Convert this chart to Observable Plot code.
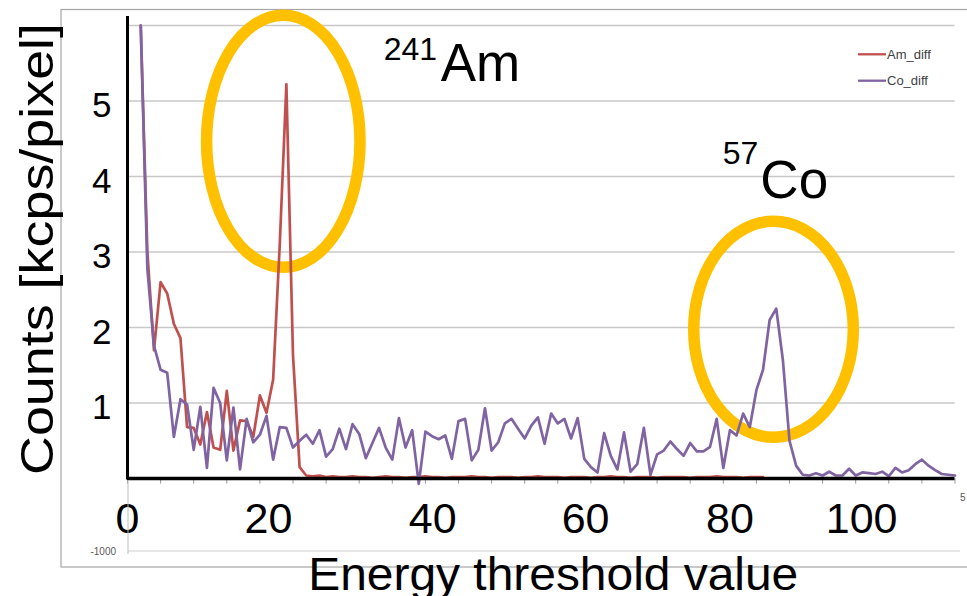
<!DOCTYPE html>
<html><head><meta charset="utf-8">
<script src="https://cdn.jsdelivr.net/npm/d3@7"></script>
<script src="https://cdn.jsdelivr.net/npm/@observablehq/plot@0.6"></script>
<style>html,body{margin:0;padding:0;background:#fff}svg{display:block}</style>
</head><body><div id="chart"></div>
<script>
// Series values (kcps/pixel), one per threshold step, starting at threshold index 2
const firstThreshold = 2;
const amDiff = [6.0, 3.0, 1.70, 2.60, 2.45, 2.05, 1.86, 0.68, 0.67, 0.45, 0.88, 0.41, 0.38, 1.16, 0.37, 0.77, 0.76, 0.55, 1.10, 0.87, 1.31, 3.10, 5.22, 1.63, 0.15, 0.04,
  0.03, 0.04, 0.02, 0.03, 0.02, 0.02, 0.03, 0.02, 0.02, 0.01, 0.02, 0.03, 0.02, 0.02, 0.01, 0.02, 0.02, 0.03, 0.02, 0.02, 0.01, 0.02, 0.02, 0.02, 0.03, 0.02, 0.02, 0.01, 0.02, 0.02, 0.02, 0.01, 0.02, 0.02, 0.03, 0.02, 0.02, 0.02, 0.01, 0.02, 0.02, 0.02, 0.01, 0.02, 0.02, 0.03, 0.02, 0.02, 0.01, 0.02, 0.02, 0.02, 0.01, 0.02, 0.02, 0.02, 0.02, 0.01, 0.02, 0.02, 0.02, 0.03, 0.02, 0.02, 0.02, 0.01, 0.02, 0.02, 0.02];
const coDiff = [6.0, 2.78, 1.76, 1.44, 1.40, 0.55, 1.05, 0.98, 0.38, 0.95, 0.14, 1.20, 1.00, 0.24, 0.94, 0.12, 0.79, 0.48, 0.58, 0.83, 0.25,
  0.68, 0.67, 0.41, 0.50, 0.58, 0.46, 0.64, 0.29, 0.39, 0.66, 0.39, 0.72, 0.59, 0.27, 0.47, 0.67, 0.41, 0.25, 0.80, 0.41, 0.64, -0.07, 0.62, 0.56,
  0.52, 0.57, 0.26, 0.76, 0.79, 0.24, 0.38, 0.93, 0.37, 0.48, 0.73, 0.79, 0.66, 0.53, 0.70, 0.81, 0.46, 0.86, 0.73, 0.79, 0.53, 0.80, 0.26, 0.15,
  0.08, 0.60, 0.30, 0.12, 0.61, 0.09, 0.19, 0.67, 0.05, 0.32, 0.37, 0.49, 0.39, 0.30, 0.47, 0.36, 0.36, 0.42, 0.79, 0.14, 0.64, 0.57, 0.86, 0.68,
  1.17, 1.44, 2.10, 2.25, 1.57, 0.50, 0.17, 0.05, 0.04, 0.07, 0.04, 0.09, 0.04, 0.04, 0.13, 0.04, 0.08, 0.07, 0.06, 0.09, 0.03, 0.14, 0.08, 0.11,
  0.19, 0.25, 0.17, 0.11, 0.06, 0.05, 0.04];
const seriesNames = ["Am_diff", "Co_diff"];
const seriesColors = ["#C0504D", "#8064A2"];
const yTicks = [1, 2, 3, 4, 5];
const gridValues = [1, 2, 3, 4, 5, 6];
const xTickPos = [0, 21.3, 46.1, 69.2, 91.0, 110.9];
const xTickLabels = ["0", "20", "40", "60", "80", "100"];
const minorTicks = d3.range(0, 126, 5);

const rows = [
  ...amDiff.map((v, i) => ({series: "Am_diff", x: firstThreshold + i, y: v})),
  ...coDiff.map((v, i) => ({series: "Co_diff", x: firstThreshold + i, y: v}))
];
const tickLabelMap = new Map(xTickPos.map((p, i) => [p, xTickLabels[i]]));

const ellipses = [
  {cx: 23.61, cy: 4.46, rx: 76.7, ry: 126},
  {cx: 97.66, cy: 1.97, rx: 79.8, ry: 108}
];

function ellipseMark(index, scales) {
  const g = d3.create("svg:g");
  for (const e of ellipses) {
    g.append("ellipse")
      .attr("cx", scales.x(e.cx)).attr("cy", scales.y(e.cy))
      .attr("rx", e.rx).attr("ry", e.ry)
      .attr("fill", "none").attr("stroke", "#FFC000").attr("stroke-width", 11.5);
  }
  return g.node();
}

const font = "'Liberation Sans', Arial, sans-serif";
const plot = Plot.plot({
  width: 967, height: 596,
  marginLeft: 127, marginRight: 12.5, marginTop: 25, marginBottom: 118,
  style: {fontFamily: font, background: "white", overflow: "visible", color: "black"},
  x: {domain: [0, 125]},
  y: {domain: [0, 6]},
  color: {domain: seriesNames, range: seriesColors},
  marks: [
    Plot.ruleY(gridValues, {stroke: "#c8c8c8", strokeWidth: 1.5}),
    Plot.ruleX(minorTicks, {y1: 0, y2: -0.075, stroke: "#9a9a9a", strokeWidth: 1}),
    ellipseMark,
    Plot.line(rows, {x: "x", y: "y", z: "series", stroke: "series", strokeWidth: 2.7}),
    Plot.ruleY([0], {stroke: "black", strokeWidth: 3.5}),
    Plot.ruleX([0], {y1: -0.02, y2: 6.12, stroke: "black", strokeWidth: 3}),
    Plot.axisY(yTicks, {tickSize: 0, tickPadding: 16, fontSize: 35, dy: 5, label: null, fill: "black", tickFormat: d => String(d)}),
    Plot.axisX(xTickPos, {tickSize: 0, tickPadding: 24, fontSize: 43, tickFormat: d => tickLabelMap.get(d), label: null, fill: "black"}),
    Plot.text(["Counts [kcps/pixel]"], {frameAnchor: "left", dx: -75, dy: -3, rotate: -90, fontSize: 46, textAnchor: "middle", lineAnchor: "bottom", fill: "black"}),
    Plot.text(["Energy threshold value"], {frameAnchor: "bottom", dx: 12, dy: 111, fontSize: 47, textAnchor: "middle", lineAnchor: "bottom", fill: "black"}),
    Plot.text(["241"], {x: 38.7, y: 5.54, fontSize: 32, textAnchor: "start", lineAnchor: "bottom", fill: "black"}),
    Plot.text(["Am"], {x: 47.3, y: 5.27, fontSize: 53, textAnchor: "start", lineAnchor: "bottom", fill: "black"}),
    Plot.text(["57"], {x: 89.9, y: 4.17, fontSize: 32, textAnchor: "start", lineAnchor: "bottom", fill: "black"}),
    Plot.text(["Co"], {x: 95.6, y: 3.71, fontSize: 53, textAnchor: "start", lineAnchor: "bottom", fill: "black"})
  ]
});

const svg = d3.select(plot);
// stretch the two axis titles to the lengths they have in the reference
const stretch = {"Counts [kcps/pixel]": 452, "Energy threshold value": 490};
svg.selectAll("text").each(function () {
  const len = stretch[this.textContent];
  if (len) d3.select(this).attr("textLength", len).attr("lengthAdjust", "spacingAndGlyphs");
});

// Excel-style chart frame, secondary gridline, legend
svg.insert("rect", ":first-child")
  .attr("x", 61).attr("y", 9.5).attr("width", 920).attr("height", 557.5)
  .attr("fill", "none").attr("stroke", "#a6a6a6").attr("stroke-width", 1.2);
svg.append("line").attr("x1", 128).attr("x2", 960).attr("y1", 551).attr("y2", 551)
  .attr("stroke", "#d0d0d0").attr("stroke-width", 1.2);
svg.append("line").attr("x1", 128).attr("x2", 128).attr("y1", 480).attr("y2", 554)
  .attr("stroke", "#bdbdbd").attr("stroke-width", 1);
svg.append("text").attr("x", 116).attr("y", 554.5).attr("text-anchor", "end")
  .attr("font-size", 10).attr("font-family", font).attr("fill", "#595959").text("-1000");
svg.append("text").attr("x", 960).attr("y", 501).attr("text-anchor", "start")
  .attr("font-size", 10).attr("font-family", font).attr("fill", "#595959").text("5");
const leg = svg.append("g");
seriesNames.forEach((name, i) => {
  const y = 54.3 + i * 26.4;
  leg.append("line").attr("x1", 858).attr("x2", 886).attr("y1", y).attr("y2", y)
    .attr("stroke", seriesColors[i]).attr("stroke-width", 2.3);
  leg.append("text").attr("x", 887).attr("y", y + 4.6).attr("font-size", 13)
    .attr("text-anchor", "start")
    .attr("font-family", font).attr("fill", "#404040").text(name);
});

document.getElementById("chart").appendChild(plot);
</script>
</body></html>
